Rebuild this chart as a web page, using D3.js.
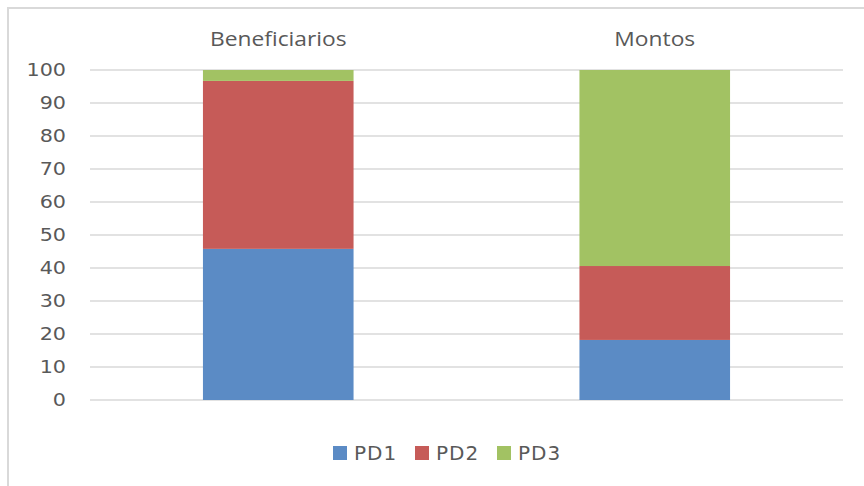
<!DOCTYPE html>
<html>
<head>
<script src="https://d3js.org/d3.v7.min.js"></script>
<style>
  body { margin: 0; background: #fff; }
  text { fill: #595959; }
</style>
</head>
<body>
<svg id="chart" width="864" height="486"></svg>
<script>
// chart data
var categories = ["Beneficiarios", "Montos"];
var seriesNames = ["PD1", "PD2", "PD3"];
var pd1 = [45.8, 18.2];
var pd2 = [50.9, 22.4];
var pd3 = [3.3, 59.4];
var yTicks = [0, 10, 20, 30, 40, 50, 60, 70, 80, 90, 100];
var colors = ["#5b8bc5", "#c65b58", "#a2c263"];

var svg = d3.select("#chart");

// outer frame (only top + left are visible in the picture)
svg.append("line").attr("x1", 7).attr("y1", 8).attr("x2", 864).attr("y2", 8)
    .attr("stroke", "#d9d9d9").attr("stroke-width", 2);
svg.append("line").attr("x1", 8).attr("y1", 8).attr("x2", 8).attr("y2", 486)
    .attr("stroke", "#d9d9d9").attr("stroke-width", 2);

var plotLeft = 90, plotRight = 843, plotTop = 70, plotBottom = 400;

var x = d3.scaleBand().domain(categories).range([plotLeft, plotRight]).padding(0);
var y = d3.scaleLinear().domain([0, 100]).range([plotBottom, plotTop]);

// gridlines
svg.append("g").selectAll("line").data(yTicks).enter().append("line")
    .attr("x1", plotLeft).attr("x2", plotRight)
    .attr("y1", function(d) { return y(d); })
    .attr("y2", function(d) { return y(d); })
    .attr("stroke", "#d9d9d9").attr("stroke-width", 1.3);

// y labels
svg.append("g").selectAll("text").data(yTicks).enter().append("text")
    .attr("transform", function(d) { return "translate(66," + y(d) + ") scale(1.15,1)"; })
    .attr("dy", "0.36em").attr("text-anchor", "end")
    .style("font-family", "DejaVu Sans").style("font-size", "18px")
    .text(function(d) { return d; });

// category labels on top
svg.append("g").selectAll("text").data(categories).enter().append("text")
    .attr("transform", function(d) {
        return "translate(" + (x(d) + x.bandwidth() / 2) + ",46) scale(1.14,1)";
    })
    .attr("text-anchor", "middle")
    .style("font-family", "Open Sans").style("font-size", "20px")
    .text(function(d) { return d; });

// stacked bars
var rows = categories.map(function(c, i) {
    return { cat: c, PD1: pd1[i], PD2: pd2[i], PD3: pd3[i] };
});
var stack = d3.stack().keys(seriesNames)(rows);
var barW = x.bandwidth() * 0.4;

svg.append("g").selectAll("g").data(stack).enter().append("g")
    .attr("fill", function(d, i) { return colors[i]; })
    .selectAll("rect").data(function(d) { return d; }).enter().append("rect")
    .attr("x", function(d) { return x(d.data.cat) + (x.bandwidth() - barW) / 2; })
    .attr("width", barW)
    .attr("y", function(d) { return y(d[1]); })
    .attr("height", function(d) { return y(d[0]) - y(d[1]); });

// legend
var legend = svg.append("g").attr("transform", "translate(333,453)");
var items = legend.selectAll("g").data(seriesNames).enter().append("g")
    .attr("transform", function(d, i) { return "translate(" + (i * 82) + ",0)"; });
items.append("rect").attr("x", 0).attr("y", -7).attr("width", 14).attr("height", 14)
    .attr("fill", function(d, i) { return colors[i]; });
items.append("text").attr("x", 21).attr("dy", "0.36em")
    .style("font-family", "DejaVu Sans").style("font-size", "20px")
    .style("letter-spacing", "1px")
    .text(function(d) { return d; });
</script>
</body>
</html>
